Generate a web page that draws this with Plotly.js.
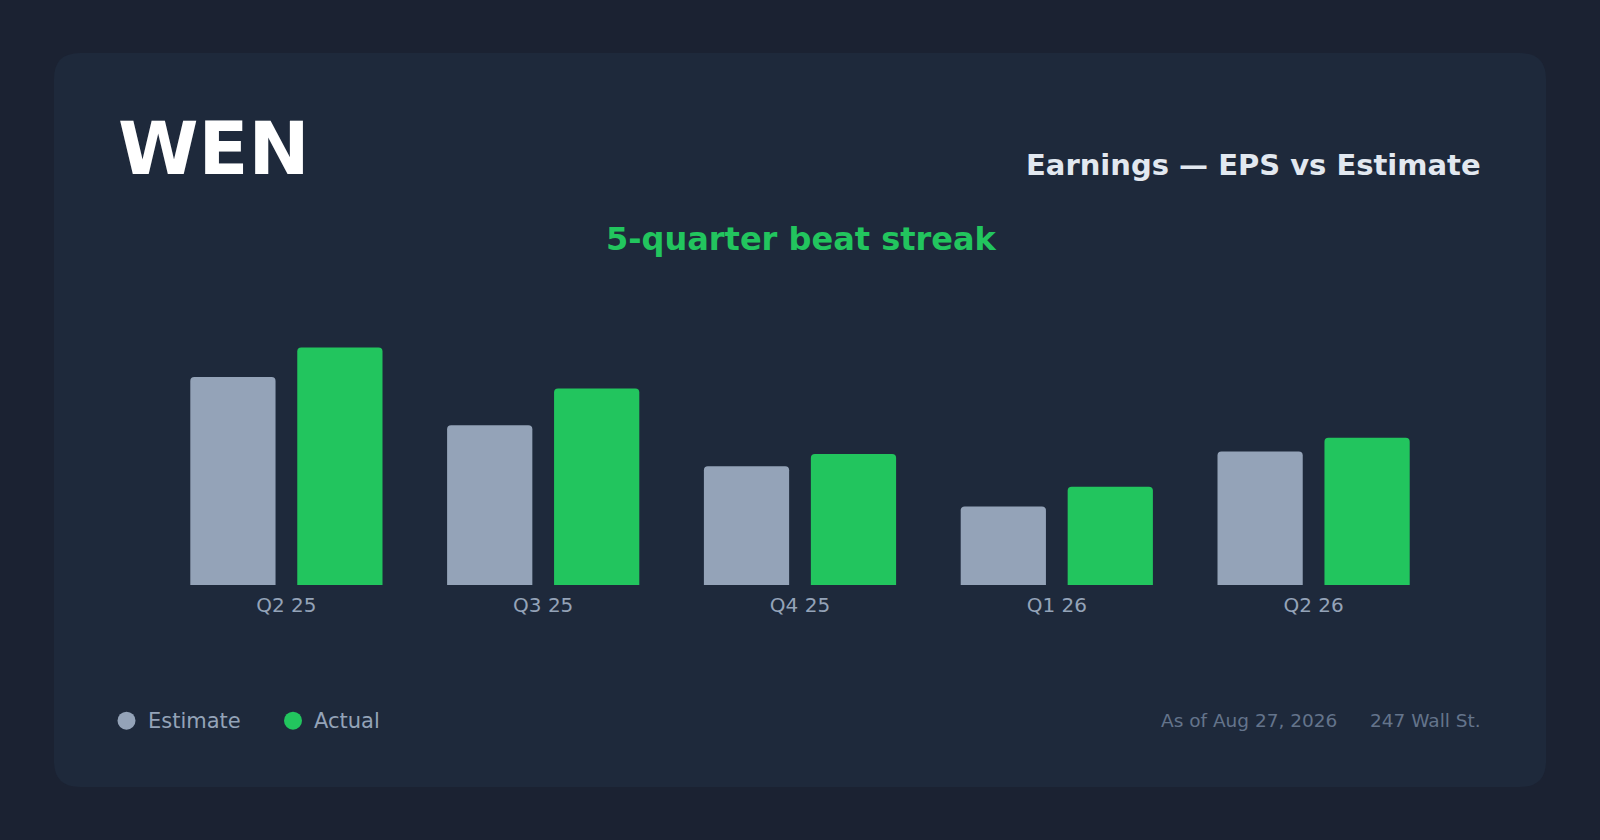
<!DOCTYPE html>
<html>
<head>
<meta charset="utf-8">
<script src="https://cdn.plot.ly/plotly-3.0.1.min.js"></script>
<style>
	html, body { margin: 0; padding: 0; background: #1b2232; }
	#chart { width: 1600px; height: 840px; }
</style>
</head>
<body>
<div id="chart"></div>
<script>
// EPS by quarter
const quarters = ["Q2 25", "Q3 25", "Q4 25", "Q1 26", "Q2 26"];
const estimateEps = [0.254, 0.195, 0.145, 0.096, 0.163];
const actualEps = [0.29, 0.24, 0.16, 0.12, 0.18];
const seriesNames = ["Estimate", "Actual"];
const seriesColors = ["#94a3b8", "#22c55e"];

const W = 1600, H = 840;
const M = { l: 158, r: 158, t: 312, b: 255 };
const plotW = W - M.l - M.r;
const plotH = H - M.t - M.b;

// pixel -> paper helpers
const px = (x) => (x - M.l) / plotW;
const py = (y) => (H - M.b - y) / plotH;

// Rounded card path in paper coords
function cardPath(x0, y0, x1, y1, r) {
	const p = (x, y) => px(x) + "," + py(y);
	return [
		"M" + p(x0 + r, y0),
		"L" + p(x1 - r, y0),
		"Q" + p(x1, y0) + " " + p(x1, y0 + r),
		"L" + p(x1, y1 - r),
		"Q" + p(x1, y1) + " " + p(x1 - r, y1),
		"L" + p(x0 + r, y1),
		"Q" + p(x0, y1) + " " + p(x0, y1 - r),
		"L" + p(x0, y0 + r),
		"Q" + p(x0, y0) + " " + p(x0 + r, y0),
		"Z",
	].join(" ");
}

const font = "DejaVu Sans, Verdana, sans-serif";

const traces = [
	{
		type: "bar",
		name: seriesNames[0],
		x: quarters,
		y: estimateEps,
		marker: { color: seriesColors[0], line: { width: 0 } },
		hoverinfo: "skip",
	},
	{
		type: "bar",
		name: seriesNames[1],
		x: quarters,
		y: actualEps,
		marker: { color: seriesColors[1], line: { width: 0 } },
		hoverinfo: "skip",
	},
];

function ann(text, x, y, size, color, anchor, bold) {
	return {
		text: bold ? "<b>" + text + "</b>" : text,
		xref: "paper",
		yref: "paper",
		x: px(x),
		y: py(y),
		xanchor: anchor,
		yanchor: "middle",
		showarrow: false,
		font: { family: font, size: size, color: color },
	};
}

const annotations = [
	ann("WEN", 116, 148.7, 73, "#ffffff", "left", true),
	ann("Earnings — EPS vs Estimate", 1483, 165.5, 29, "#e2e8f0", "right", true),
	ann("5-quarter beat streak", 801, 238.7, 32, "#22c55e", "center", true),
	ann(seriesNames[0], 146, 720.5, 21, "#94a3b8", "left", false),
	ann(seriesNames[1], 312, 720.5, 21, "#94a3b8", "left", false),
	ann("As of Aug 27, 2026", 1339, 720, 18.5, "#64748b", "right", false),
	ann("247 Wall St.", 1483, 720, 18.5, "#64748b", "right", false),
];

const legendDots = [126.5, 293].map((cx, i) => ({
	type: "circle",
	xref: "paper",
	yref: "paper",
	x0: px(cx - 9),
	x1: px(cx + 9),
	y0: py(720.7 + 9),
	y1: py(720.7 - 9),
	fillcolor: seriesColors[i],
	line: { width: 0 },
}));

const layout = {
	width: W,
	height: H,
	margin: M,
	paper_bgcolor: "#1b2232",
	plot_bgcolor: "rgba(0,0,0,0)",
	showlegend: false,
	barmode: "group",
	bargap: 0.167,
	bargroupgap: 0.203,
	barcornerradius: 4,
	font: { family: font, color: "#94a3b8" },
	xaxis: {
		type: "category",
		showgrid: false,
		zeroline: false,
		showline: false,
		ticks: "",
		ticklabelstandoff: 6,
		tickfont: { family: font, size: 20, color: "#94a3b8" },
	},
	yaxis: {
		range: [0, 0.3335],
		visible: false,
		fixedrange: true,
	},
	shapes: [
		{
			type: "path",
			xref: "paper",
			yref: "paper",
			path: cardPath(54, 53, 1546, 787, 26),
			fillcolor: "#1e293b",
			line: { width: 0 },
			layer: "below",
		},
		...legendDots,
	],
	annotations: annotations,
};

Plotly.newPlot("chart", traces, layout, { staticPlot: true, displayModeBar: false });
</script>
</body>
</html>
